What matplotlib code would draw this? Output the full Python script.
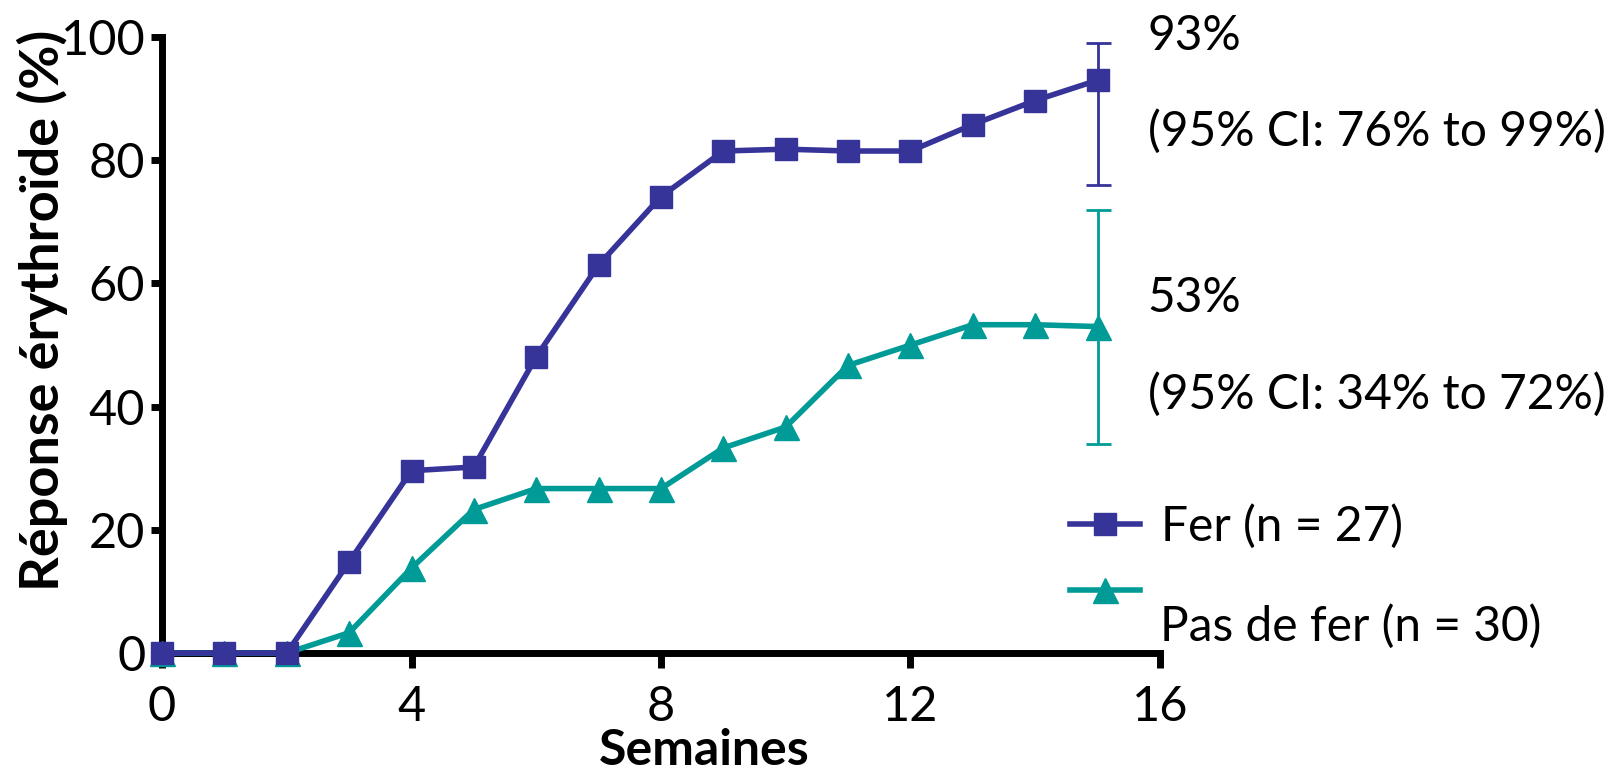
import matplotlib.pyplot as plt

# Semaines de suivi
semaines = list(range(16))

# Réponse érythroïde cumulée (%)
fer = [0, 0, 0, 14.8, 29.6, 30.2, 48.1, 63.0, 74.1, 81.5, 81.8, 81.5, 81.5, 85.8, 89.7, 93]
pas_de_fer = [0, 0, 0, 3.3, 13.8, 23.3, 26.7, 26.7, 26.7, 33.3, 36.7, 46.7, 50.0, 53.3, 53.3, 53]

# IC 95 % à la dernière semaine
fer_ic = (76, 99)
pas_de_fer_ic = (34, 72)

bleu = "#363399"
vert = "#009B96"

plt.rcParams['font.family'] = ['Lato', 'DejaVu Sans']

fig = plt.figure(figsize=(16.12, 7.72), dpi=100)
ax = fig.add_axes([0.1005, 0.1541, 0.6191, 0.7979])

l1, = ax.plot(semaines, fer, color=bleu, lw=4, marker='s', ms=16.5,
              label="Fer (n = 27)", zorder=4, clip_on=False)
l2, = ax.plot(semaines, pas_de_fer, color=vert, lw=4, marker='^', ms=18,
              label="Pas de fer (n = 30)", zorder=3, clip_on=False)

# barres d'erreur au dernier point
x_fin = semaines[-1]
ax.errorbar([x_fin], [fer[-1]],
            yerr=[[fer[-1] - fer_ic[0]], [fer_ic[1] - fer[-1]]],
            fmt='none', ecolor=bleu, elinewidth=2, capsize=9, capthick=2)
ax.errorbar([x_fin], [pas_de_fer[-1]],
            yerr=[[pas_de_fer[-1] - pas_de_fer_ic[0]], [pas_de_fer_ic[1] - pas_de_fer[-1]]],
            fmt='none', ecolor=vert, elinewidth=2, capsize=9, capthick=2)

fs = 34.5
ax.text(15.8, 100.2, f"{fer[-1]:.0f}%", fontsize=fs, va='center', ha='left')
ax.text(15.8, 84.7, f"(95% CI: {fer_ic[0]}% to {fer_ic[1]}%)", fontsize=fs, va='center', ha='left')
ax.text(15.8, 57.6, f"{pas_de_fer[-1]:.0f}%", fontsize=fs, va='center', ha='left')
ax.text(15.8, 42.0, f"(95% CI: {pas_de_fer_ic[0]}% to {pas_de_fer_ic[1]}%)", fontsize=fs, va='center', ha='left')

ax.set_xlim(0, 16)
ax.set_ylim(0, 100)
ax.set_xticks([0, 4, 8, 12, 16])
ax.set_yticks([0, 20, 40, 60, 80, 100])

for s in ['top', 'right']:
    ax.spines[s].set_visible(False)
for s in ['left', 'bottom']:
    ax.spines[s].set_linewidth(5)
ax.tick_params(axis='x', length=11, width=5, labelsize=35, pad=12)
ax.tick_params(axis='y', length=8, width=5, labelsize=35, pad=4)

ax.set_xlabel("Semaines", fontsize=36, fontweight='bold', va='center')
ax.xaxis.set_label_coords(0.543, -0.158)
ax.set_ylabel("Réponse érythroïde (%)", fontsize=39, fontweight='bold', va='center')
ax.yaxis.set_label_coords(-0.12, 0.557)

# légende : le libellé du second groupe est placé sous son symbole
leg = ax.legend(handles=[l1, l2], labels=["Fer (n = 27)", ""], loc='upper left',
                bbox_to_anchor=(0.91, 0.242), frameon=False, fontsize=fs,
                handlelength=1.45, handletextpad=0.45, labelspacing=0.45,
                borderaxespad=0, borderpad=0)
ax.text(16.0, 4.3, "Pas de fer (n = 30)", fontsize=fs, va='center', ha='left')

fig.savefig("out.png", dpi=100)
